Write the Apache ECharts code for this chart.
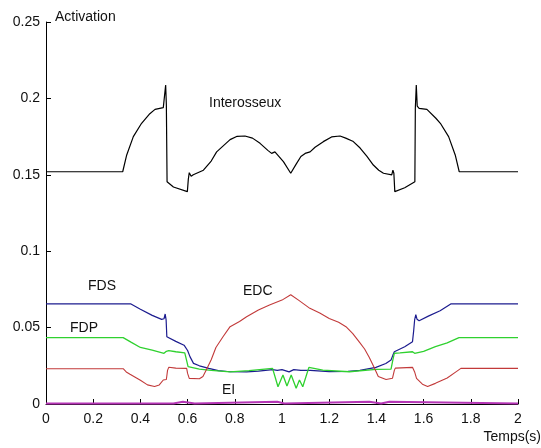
<!DOCTYPE html>
<html>
<head>
<meta charset="utf-8">
<script src="https://cdn.jsdelivr.net/npm/echarts@6/dist/echarts.min.js"></script>
<style>html,body{margin:0;padding:0;background:#fff}#c{width:541px;height:448px}</style>
</head>
<body>
<div id="c"></div>
<script>
var xTicks = [0, 0.2, 0.4, 0.6, 0.8, 1, 1.2, 1.4, 1.6, 1.8, 2];
var yTicks = [0, 0.05, 0.1, 0.15, 0.2, 0.25];

var interosseux = [[0,0.152],[0.325,0.152],[0.342,0.163],[0.37,0.175],[0.405,0.1837],[0.44,0.19],[0.462,0.1928],[0.497,0.194],[0.503,0.195],[0.507,0.2088],[0.51,0.196],[0.513,0.1455],[0.54,0.142],[0.599,0.139],[0.603,0.147],[0.607,0.1514],[0.615,0.149],[0.624,0.150],[0.667,0.153],[0.7,0.159],[0.723,0.165],[0.78,0.173],[0.81,0.1752],[0.843,0.1754],[0.875,0.174],[0.907,0.1706],[0.94,0.166],[0.956,0.164],[0.97,0.165],[0.977,0.164],[1.006,0.1586],[1.037,0.151],[1.06,0.157],[1.08,0.162],[1.098,0.164],[1.105,0.165],[1.119,0.165],[1.14,0.168],[1.175,0.1717],[1.21,0.1748],[1.246,0.1754],[1.27,0.174],[1.3,0.172],[1.331,0.1675],[1.36,0.162],[1.387,0.1564],[1.41,0.153],[1.43,0.151],[1.465,0.15],[1.47,0.153],[1.474,0.151],[1.478,0.139],[1.52,0.1415],[1.563,0.1455],[1.565,0.1935],[1.569,0.2088],[1.573,0.195],[1.581,0.1935],[1.614,0.1928],[1.652,0.187],[1.671,0.1837],[1.706,0.175],[1.734,0.163],[1.751,0.152],[2,0.152]];

var fds = [[0,0.0655],[0.36,0.0655],[0.4,0.062],[0.45,0.058],[0.49,0.0554],[0.5,0.0558],[0.505,0.0589],[0.509,0.055],[0.512,0.044],[0.55,0.041],[0.585,0.0385],[0.6,0.035],[0.61,0.031],[0.625,0.0266],[0.65,0.025],[0.69,0.0233],[0.73,0.0218],[0.78,0.0211],[0.85,0.021],[0.9,0.0215],[0.96,0.0225],[0.98,0.022],[1.0,0.0225],[1.03,0.021],[1.05,0.0225],[1.08,0.022],[1.12,0.022],[1.2,0.0212],[1.28,0.0213],[1.33,0.022],[1.398,0.024],[1.44,0.0265],[1.462,0.0288],[1.47,0.032],[1.476,0.0342],[1.52,0.0375],[1.553,0.0408],[1.558,0.048],[1.562,0.055],[1.567,0.0585],[1.572,0.0555],[1.581,0.0545],[1.62,0.0575],[1.67,0.061],[1.715,0.0655],[2,0.0655]];

var fdp = [[0,0.0434],[0.327,0.0434],[0.36,0.0405],[0.4,0.037],[0.45,0.0352],[0.5,0.0332],[0.51,0.0345],[0.52,0.0349],[0.55,0.0342],[0.588,0.0334],[0.595,0.029],[0.602,0.0244],[0.65,0.0228],[0.7,0.022],[0.78,0.021],[0.86,0.0218],[0.96,0.0233],[0.983,0.0113],[1.004,0.019],[1.021,0.0118],[1.039,0.019],[1.06,0.0103],[1.074,0.0157],[1.088,0.0113],[1.114,0.024],[1.173,0.0222],[1.285,0.0211],[1.398,0.0227],[1.462,0.0228],[1.47,0.029],[1.476,0.0332],[1.5,0.0335],[1.553,0.0342],[1.562,0.0332],[1.568,0.0327],[1.6,0.0345],[1.65,0.0375],[1.7,0.040],[1.75,0.0434],[2,0.0434]];

var edc = [[0,0.0231],[0.327,0.0231],[0.34,0.021],[0.356,0.0195],[0.4,0.0155],[0.43,0.0125],[0.46,0.0115],[0.48,0.0125],[0.497,0.0157],[0.51,0.016],[0.515,0.022],[0.52,0.024],[0.55,0.0235],[0.596,0.0233],[0.6,0.02],[0.607,0.0168],[0.65,0.0165],[0.665,0.018],[0.679,0.0222],[0.7,0.029],[0.72,0.037],[0.75,0.044],[0.78,0.0506],[0.82,0.054],[0.85,0.0571],[0.9,0.0615],[0.947,0.0648],[1.0,0.068],[1.037,0.0715],[1.07,0.068],[1.118,0.0626],[1.16,0.0595],[1.2,0.056],[1.24,0.0535],[1.271,0.0506],[1.3,0.046],[1.328,0.0405],[1.35,0.036],[1.37,0.0305],[1.39,0.024],[1.408,0.018],[1.441,0.016],[1.468,0.0168],[1.476,0.022],[1.48,0.0235],[1.553,0.024],[1.562,0.021],[1.57,0.0168],[1.595,0.013],[1.617,0.0115],[1.65,0.0135],[1.7,0.017],[1.737,0.021],[1.758,0.0233],[2,0.0233]];

var ei = [[0,0.0003],[0.54,0.0003],[0.545,0.0015],[0.58,0.0015],[0.585,0.0003],[0.63,0.0003],[0.635,0.0015],[0.98,0.0015],[0.985,0.0003],[1.01,0.0003],[1.015,0.0015],[1.37,0.0015],[1.375,0.0003],[1.42,0.0003],[1.425,0.0015],[1.455,0.0015],[1.46,0.0003],[2,0.0003]];

var FONT = 'Liberation Sans, Arial, sans-serif';
var chart = echarts.init(document.getElementById('c'), null, {renderer: 'canvas'});

function line(name, data, color, width) {
  return {
    name: name, type: 'line', data: data, showSymbol: false, symbol: 'none',
    lineStyle: {color: color, width: width}, itemStyle: {color: color}, animation: false
  };
}

chart.setOption({
  animation: false,
  backgroundColor: '#fff',
  grid: {left: 46, right: 23, top: 22, bottom: 44},
  xAxis: {
    type: 'value', min: 0, max: 2, interval: 0.2,
    axisLine: {lineStyle: {color: '#000', width: 1}},
    axisTick: {inside: true, length: 5, lineStyle: {color: '#000'}},
    splitLine: {show: false},
    axisLabel: {color: '#111', fontFamily: FONT, fontSize: 14, margin: 8,
      formatter: function (v) { return String(+v.toFixed(2)); }}
  },
  yAxis: {
    type: 'value', min: 0, max: 0.25, interval: 0.05,
    axisLine: {show: true, lineStyle: {color: '#000', width: 1}},
    axisTick: {show: true, inside: true, length: 5, lineStyle: {color: '#000'}},
    splitLine: {show: false},
    axisLabel: {color: '#111', fontFamily: FONT, fontSize: 14, margin: 6,
      formatter: function (v) { return String(+v.toFixed(2)); }}
  },
  series: [
    line('Interosseux', interosseux, '#000000', 1.2),
    line('FDS', fds, '#1c1c8f', 1.2),
    line('FDP', fdp, '#2fd12f', 1.3),
    line('EDC', edc, '#c23a3a', 1.1),
    line('EI', ei, '#b535b5', 2)
  ],
  graphic: [
    {type: 'text', left: 55, top: 10, style: {text: 'Activation', font: '14px ' + FONT, fill: '#111'}},
    {type: 'text', right: 0, top: 430, style: {text: 'Temps(s)', font: '14px ' + FONT, fill: '#111'}},
    {type: 'text', left: 209, top: 96, style: {text: 'Interosseux', font: '14px ' + FONT, fill: '#111'}},
    {type: 'text', left: 88, top: 279, style: {text: 'FDS', font: '14px ' + FONT, fill: '#111'}},
    {type: 'text', left: 70, top: 321, style: {text: 'FDP', font: '14px ' + FONT, fill: '#111'}},
    {type: 'text', left: 243, top: 284, style: {text: 'EDC', font: '14px ' + FONT, fill: '#111'}},
    {type: 'text', left: 222, top: 383, style: {text: 'EI', font: '14px ' + FONT, fill: '#111'}}
  ]
});
</script>
</body>
</html>
